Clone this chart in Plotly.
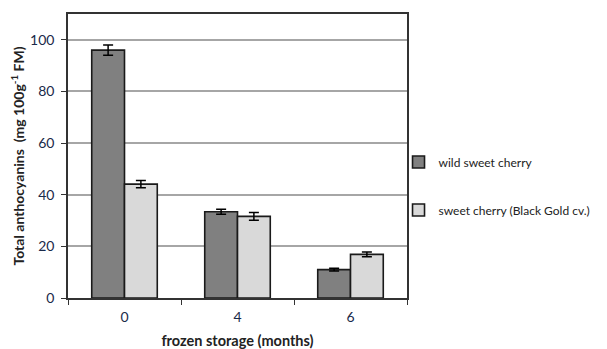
import plotly.graph_objects as go

categories = ["0", "4", "6"]
wild = [96.0, 33.4, 11.0]
wild_err = [2.0, 1.0, 0.5]
black_gold = [44.1, 31.6, 16.9]
black_gold_err = [1.4, 1.5, 0.9]
series_names = ["wild sweet cherry", "sweet cherry (Black Gold cv.)"]
y_ticks = [0, 20, 40, 60, 80, 100]

font_family = "Lato, 'Open Sans', sans-serif"

fig = go.Figure()
fig.add_trace(go.Bar(
    x=categories, y=wild, name=series_names[0], legendgroup="a",
    marker=dict(color="#808080", line=dict(color="#1a1a1a", width=1.6)),
    error_y=dict(type="data", array=wild_err, color="#000", thickness=1.5, width=5),
))
fig.add_trace(go.Bar(
    x=categories, y=black_gold, name=series_names[1], legendgroup="b",
    marker=dict(color="#d9d9d9", line=dict(color="#1a1a1a", width=1.6)),
    error_y=dict(type="data", array=black_gold_err, color="#000", thickness=1.5, width=5),
))

fig.update_layout(
    width=607, height=349,
    margin=dict(l=60, r=208, t=6, b=59, autoexpand=False),
    paper_bgcolor="white", plot_bgcolor="white",
    barmode="group", bargap=0.42, bargroupgap=0,
    font=dict(family=font_family, color="#222", size=13),
    showlegend=True,
    legend=dict(x=0.975, y=0.53, xanchor="left", yanchor="top",
                font=dict(size=12, color="#222"), tracegroupgap=29,
                bgcolor="rgba(0,0,0,0)"),
    xaxis=dict(
        title=dict(text="<b>frozen storage (months)</b>", font=dict(size=14.5, color="#222"), standoff=12),
        tickson="boundaries", ticks="outside", ticklen=5, tickcolor="#333",
        showline=True, linecolor="#333", linewidth=1.5, mirror=True,
        tickfont=dict(size=14, color="#1a2a4a"), automargin=False,
        ticklabelstandoff=5,
    ),
    yaxis=dict(
        title=dict(text="<b>Total anthocyanins  (mg 100g<sup>-1</sup> FM)</b>", font=dict(size=14, color="#222"), standoff=8),
        range=[0, 110], tickvals=y_ticks, ticks="outside", ticklen=5, tickcolor="#333",
        showgrid=True, gridcolor="#a6a6a6", gridwidth=1.5,
        showline=True, linecolor="#333", linewidth=1.5, mirror=True,
        tickfont=dict(size=14, color="#1a2a4a"), zeroline=False, automargin=False,
        ticklabelstandoff=4,
    ),
)

fig.write_html("out.html")
